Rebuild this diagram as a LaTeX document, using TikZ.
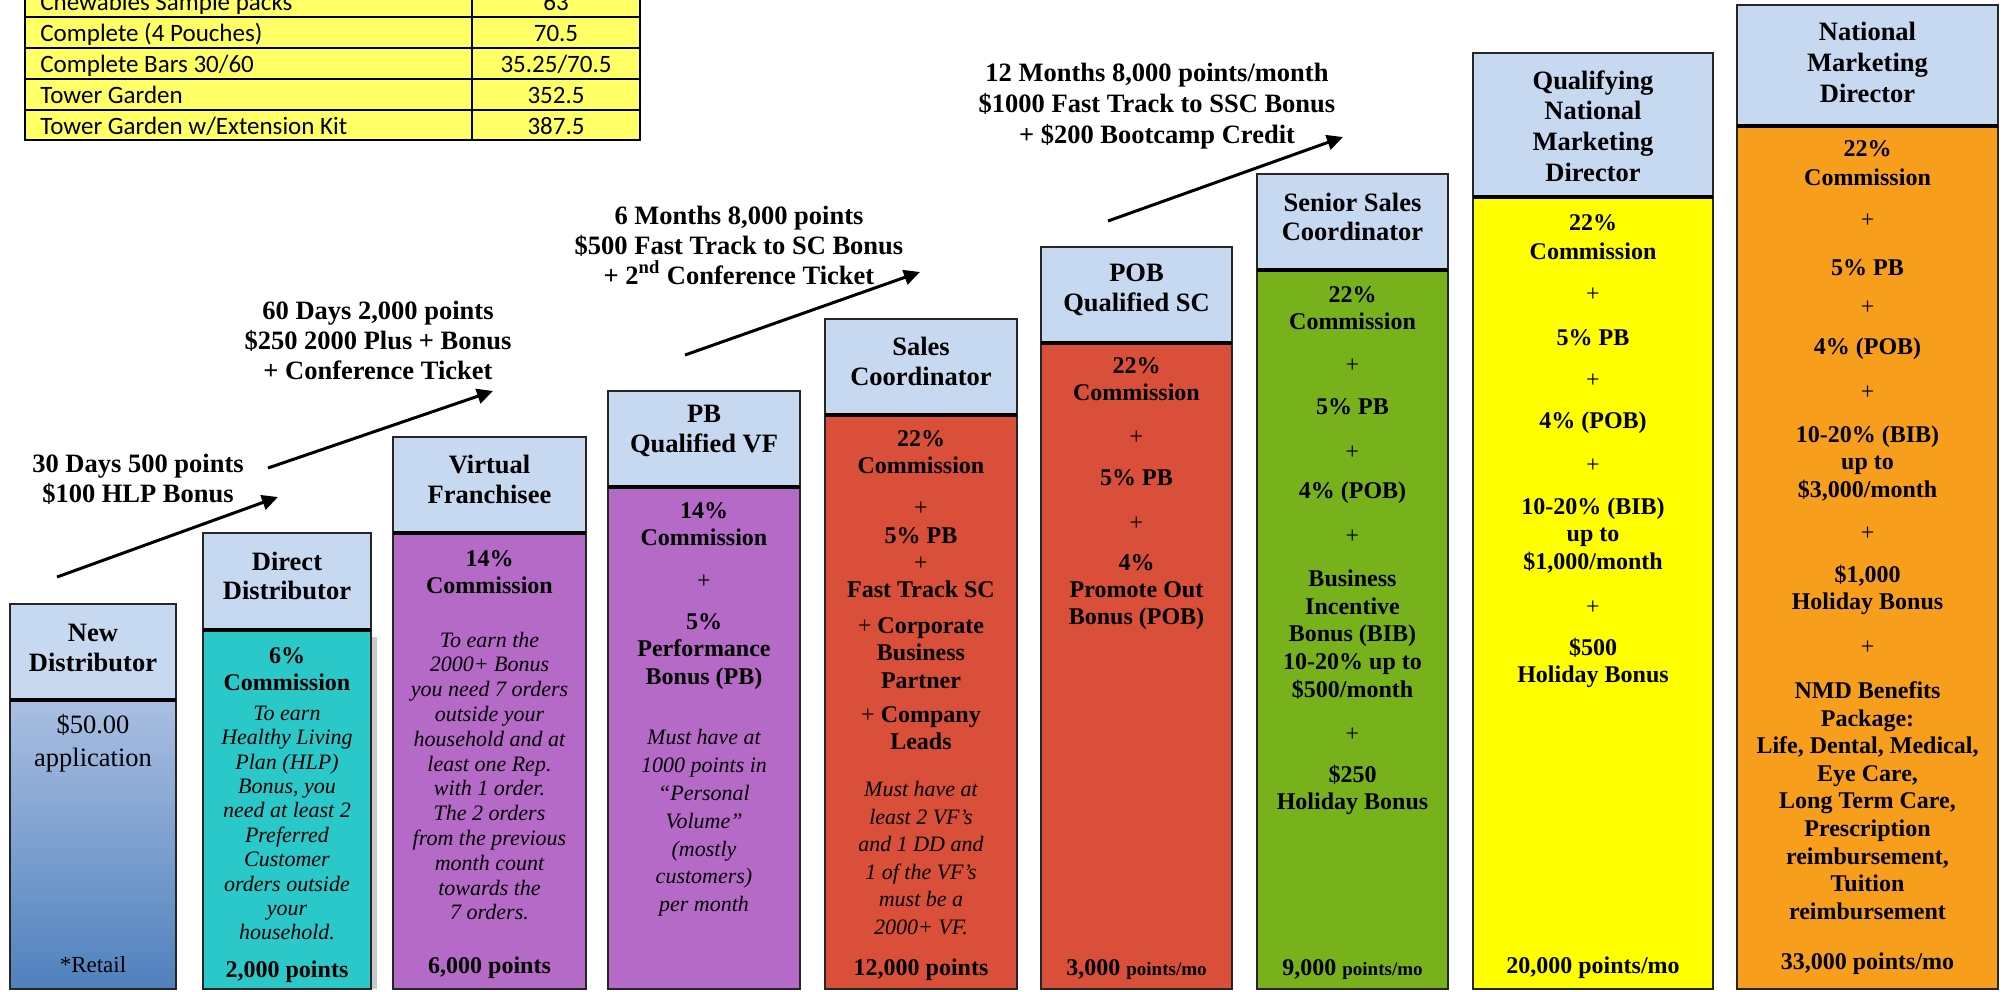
\documentclass[tikz,border=0pt]{standalone}
\usepackage{fontspec}
\setmainfont{Liberation Serif}
\newfontfamily\tblfont{Carlito}
\usetikzlibrary{arrows.meta}
\definecolor{hdrblue}{RGB}{198,217,241}
\definecolor{ndtop}{RGB}{170,191,226}
\definecolor{ndbot}{RGB}{79,129,189}
\definecolor{teal}{RGB}{43,200,202}
\definecolor{purp}{RGB}{182,106,200}
\definecolor{redo}{RGB}{217,79,57}
\definecolor{grn}{RGB}{119,178,29}
\definecolor{yel}{RGB}{255,255,0}
\definecolor{orng}{RGB}{248,158,29}
\definecolor{tblyel}{RGB}{255,255,102}
\definecolor{shadowgray}{RGB}{200,200,200}
\newcommand\rankbox[5]{%
  \fill[hdrblue] (#1,#3) rectangle (#2,#4);
  \fill[#5] (#1,#4) rectangle (#2,989);
  \draw[boxline] (#1,#3) rectangle (#2,989);
  \draw[sepline] (#1,#4) -- (#2,#4);
}
\begin{document}
\begin{tikzpicture}[x=0.5pt,y=-0.5pt,
  boxline/.style={draw=black!85, line width=1.1pt},
  sepline/.style={draw=black, line width=1.6pt},
  tblline/.style={draw=black, line width=1.2pt},
  hd/.style={font=\bfseries\fontsize{13.25}{14.75}\selectfont, align=center, inner sep=0pt},
  bb/.style={font=\bfseries\fontsize{12}{13.6}\selectfont, align=center, inner sep=0pt},
  pp/.style={font=\fontsize{12}{13.6}\selectfont, inner sep=0pt},
  ii/.style={font=\itshape\fontsize{11}{12.2}\selectfont, align=center, inner sep=0pt},
  nt/.style={font=\bfseries\fontsize{13.25}{15}\selectfont, align=center, inner sep=0pt},
  tb/.style={font=\tblfont\fontsize{12.5}{14}\selectfont, inner sep=0pt},
  arr/.style={-{Triangle[length=8pt,width=7.5pt]}, line width=1.5pt, black}]
\useasboundingbox (0,0) rectangle (2003,991);
\clip (0,0) rectangle (2003,991);

% ---------- price table ----------
\fill[tblyel] (25,-20) rectangle (640,140);
\draw[tblline] (25,-20) rectangle (640,140);
\foreach \yy in {17,48,79,110} \draw[tblline] (25,\yy) -- (640,\yy);
\draw[tblline] (472,-20) -- (472,140);
\node[tb, anchor=base west] (t1) at (40,10) {Chewables Sample packs};
\node[tb, anchor=base] (v1) at (556,10) {63};
\node[tb, anchor=base west] (t2) at (40,41) {Complete (4 Pouches)};
\node[tb, anchor=base] (v2) at (556,41) {70.5};
\node[tb, anchor=base west] (t3) at (40,72) {Complete Bars 30/60};
\node[tb, anchor=base] (v3) at (556,72) {35.25/70.5};
\node[tb, anchor=base west] (t4) at (40,103) {Tower Garden};
\node[tb, anchor=base] (v4) at (556,103) {352.5};
\node[tb, anchor=base west] (t5) at (40,134) {Tower Garden w/Extension Kit};
\node[tb, anchor=base] (v5) at (556,134) {387.5};

% ---------- boxes ----------
% New Distributor (gradient body)
\fill[hdrblue] (10,604) rectangle (176,700);
\shade[top color=ndtop, bottom color=ndbot] (10,700) rectangle (176,989);
\draw[boxline] (10,604) rectangle (176,989);
\draw[sepline] (10,700) -- (176,700);
% Direct Distributor shadow + box
\fill[shadowgray] (371,637) rectangle (377,989);
\rankbox{203}{371}{533}{630}{teal}
\rankbox{393}{586}{437}{533}{purp}
\rankbox{608}{800}{391}{487}{purp}
\rankbox{825}{1017}{319}{415}{redo}
\rankbox{1041}{1232}{247}{343}{redo}
\rankbox{1257}{1448}{174}{270}{grn}
\rankbox{1473}{1713}{53}{197}{yel}
\rankbox{1737}{1998}{5}{126}{orng}

% ---------- New Distributor ----------
\node[hd] (ndT) at (93,648) {New\\Distributor};
\node[font=\fontsize{13.25}{16.3}\selectfont, align=center, inner sep=0pt] (ndB) at (93,743) {\$50.00\\application};
\node[font=\fontsize{11.5}{13}\selectfont, inner sep=0pt] (ndR) at (93,965) {*Retail};

% ---------- Direct Distributor ----------
\node[hd] (ddT) at (287,576) {Direct\\Distributor};
\node[bb] (dd1) at (287,669.5) {6\%\\Commission};
\node[ii] (dd2) at (287,823) {To earn\\Healthy Living\\Plan (HLP)\\Bonus, you\\need at least 2\\Preferred\\Customer\\orders outside\\your\\household.};
\node[bb] (dd3) at (287,972) {2,000 points};

% ---------- Virtual Franchisee ----------
\node[hd] (vfT) at (489.5,479.5) {Virtual\\Franchisee};
\node[bb] (vf1) at (489.5,572) {14\%\\Commission};
\node[ii, font=\itshape\fontsize{11}{12.4}\selectfont] (vf2) at (489.5,776) {To earn the\\2000+ Bonus\\you need 7 orders\\outside your\\household and at\\least one Rep.\\with 1 order.\\The 2 orders\\from the previous\\month count\\towards the\\7 orders.};
\node[bb] (vf3) at (489.5,968) {6,000 points};

% ---------- PB Qualified VF ----------
\node[hd] (pbT) at (704,431) {PB\\Qualified VF};
\node[bb] (pb1) at (704,524) {14\%\\Commission};
\node[pp] (pb2) at (704,582) {+};
\node[bb] (pb3) at (704,651.5) {5\%\\Performance\\Bonus (PB)};
\node[ii, font=\itshape\fontsize{11}{13.9}\selectfont] (pb4) at (704,823) {Must have at\\1000 points in\\“Personal\\Volume”\\(mostly\\customers)\\per month};

% ---------- Sales Coordinator ----------
\node[hd] (scT) at (921,361.5) {Sales\\Coordinator};
\node[bb] (sc1) at (921,452.5) {22\%\\Commission};
\node[bb] (sc2) at (921,550) {{\mdseries +}\\5\% PB\\{\mdseries +}\\Fast Track SC};
\node[bb] (sc3) at (921,653) {{\mdseries +} Corporate\\Business\\Partner};
\node[bb] (sc4) at (921,728) {{\mdseries +} Company\\Leads};
\node[ii, font=\itshape\fontsize{11}{13.8}\selectfont] (sc5) at (921,858) {Must have at\\least 2 VF’s\\and 1 DD and\\1 of the VF’s\\must be a\\2000+ VF.};
\node[bb] (sc6) at (921,970) {12,000 points};

% ---------- POB Qualified SC ----------
\node[hd] (pobT) at (1136.5,290) {POB\\Qualified SC};
\node[bb] (pob1) at (1136.5,379.5) {22\%\\Commission};
\node[pp] (pob2) at (1136.5,438) {+};
\node[bb] (pob3) at (1136.5,478) {5\% PB};
\node[pp] (pob4) at (1136.5,524) {+};
\node[bb] (pob5) at (1136.5,592) {4\%\\Promote Out\\Bonus (POB)};
\node[bb] (pob6) at (1136.5,970) {3,000 {\fontsize{9.5}{11}\selectfont points/mo}};

% ---------- Senior Sales Coordinator ----------
\node[hd] (sscT) at (1352.5,217) {Senior Sales\\Coordinator};
\node[bb] (ssc1) at (1352.5,308.5) {22\%\\Commission};
\node[pp] (ssc2) at (1352.5,366) {+};
\node[bb] (ssc3) at (1352.5,407) {5\% PB};
\node[pp] (ssc4) at (1352.5,453) {+};
\node[bb] (ssc5) at (1352.5,493) {4\% (POB)};
\node[pp] (ssc6) at (1352.5,537) {+};
\node[bb, font=\bfseries\fontsize{12}{13.9}\selectfont] (ssc7) at (1352.5,634.5) {Business\\Incentive\\Bonus (BIB)\\10-20\% up to\\\$500/month};
\node[pp] (ssc8) at (1352.5,735) {+};
\node[bb] (ssc9) at (1352.5,789.5) {\$250\\Holiday Bonus};
\node[bb] (ssc10) at (1352.5,970) {9,000 {\fontsize{9.5}{11}\selectfont points/mo}};

% ---------- Qualifying NMD ----------
\node[hd, font=\bfseries\fontsize{13.25}{15.35}\selectfont] (qT) at (1593,126) {Qualifying\\National\\Marketing\\Director};
\node[bb, font=\bfseries\fontsize{12}{14.7}\selectfont] (q1) at (1593,237) {22\%\\Commission};
\node[pp] (q2) at (1593,295) {+};
\node[bb] (q3) at (1593,338) {5\% PB};
\node[pp] (q4) at (1593,381) {+};
\node[bb] (q5) at (1593,423) {4\% (POB)};
\node[pp] (q6) at (1593,466) {+};
\node[bb] (q7) at (1593,535.5) {10-20\% (BIB)\\up to\\\$1,000/month};
\node[pp] (q8) at (1593,608) {+};
\node[bb] (q9) at (1593,663) {\$500\\Holiday Bonus};
\node[bb] (q10) at (1593,968) {20,000 points/mo};

% ---------- National Marketing Director ----------
\node[hd, font=\bfseries\fontsize{13.25}{15.35}\selectfont] (nT) at (1867.5,62.5) {National\\Marketing\\Director};
\node[bb, font=\bfseries\fontsize{12}{14.5}\selectfont] (n1) at (1867.5,163.5) {22\%\\Commission};
\node[pp] (n2) at (1867.5,221) {+};
\node[bb] (n3) at (1867.5,268) {5\% PB};
\node[pp] (n4) at (1867.5,308) {+};
\node[bb] (n5) at (1867.5,349) {4\% (POB)};
\node[pp] (n6) at (1867.5,393) {+};
\node[bb] (n7) at (1867.5,463.5) {10-20\% (BIB)\\up to\\\$3,000/month};
\node[pp] (n8) at (1867.5,534) {+};
\node[bb] (n9) at (1867.5,590) {\$1,000\\Holiday Bonus};
\node[pp] (n10) at (1867.5,648) {+};
\node[bb, font=\bfseries\fontsize{12}{13.8}\selectfont] (n11) at (1867.5,800.5) {NMD Benefits\\Package:\\Life, Dental, Medical,\\Eye Care,\\Long Term Care,\\Prescription\\reimbursement,\\Tuition\\reimbursement};
\node[bb] (n12) at (1867.5,964) {33,000 points/mo};

% ---------- milestone notes and arrows ----------
\node[nt] (m30) at (138,479) {30 Days 500 points\\\$100 HLP Bonus};
\node[nt] (m60) at (378,340) {60 Days 2,000 points\\\$250 2000 Plus + Bonus\\+ Conference Ticket};
\node[nt] (m6m) at (739,245) {6 Months 8,000 points\\\$500 Fast Track to SC Bonus\\+ 2\textsuperscript{nd} Conference Ticket};
\node[nt, font=\bfseries\fontsize{13.25}{15.5}\selectfont] (m12m) at (1157,106) {12 Months 8,000 points/month\\\$1000 Fast Track to SSC Bonus\\+ \$200 Bootcamp Credit};

\coordinate (a1s) at (57,577);   \coordinate (a1e) at (278,497);
\coordinate (a2s) at (268,468);  \coordinate (a2e) at (493,391);
\coordinate (a3s) at (685,355);  \coordinate (a3e) at (920,272);
\coordinate (a4s) at (1108,221); \coordinate (a4e) at (1343,137);
\draw[arr] (a1s) -- (a1e);
\draw[arr] (a2s) -- (a2e);
\draw[arr] (a3s) -- (a3e);
\draw[arr] (a4s) -- (a4e);
\end{tikzpicture}
\end{document}
